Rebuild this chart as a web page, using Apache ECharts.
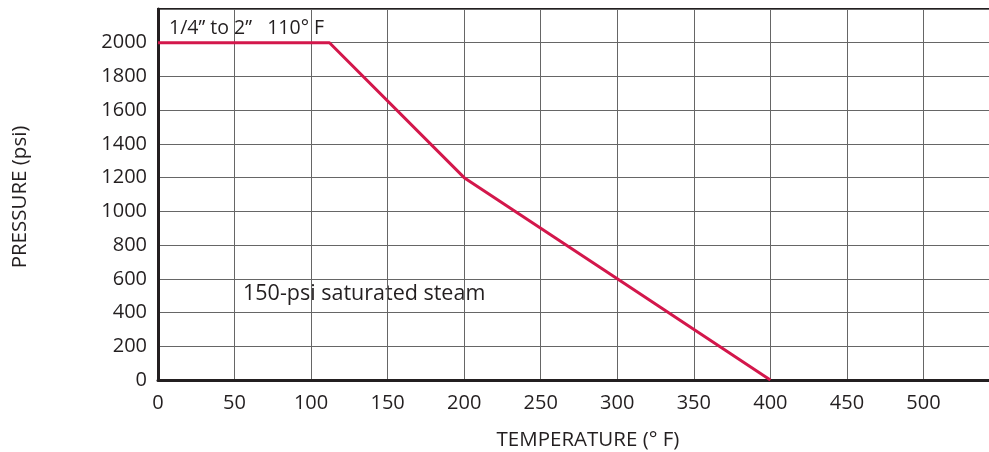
<!DOCTYPE html>
<html>
<head>
<meta charset="utf-8">
<script src="https://cdn.jsdelivr.net/npm/echarts@6/dist/echarts.min.js"></script>
<style>
html,body{margin:0;padding:0;background:#fff;}
#chart{width:989px;height:452px;}
</style>
</head>
<body>
<div id="chart"></div>
<script>
const temps = [0, 112, 200, 300, 400];
const pressures = [2000, 2000, 1200, 600, 0];
const xTicks = [0, 50, 100, 150, 200, 250, 300, 350, 400, 450, 500];
const yTicks = [0, 200, 400, 600, 800, 1000, 1200, 1400, 1600, 1800, 2000];
const xTitle = 'TEMPERATURE (° F)';
const yTitle = 'PRESSURE (psi)';
const note1 = '1/4” to 2”   110° F';
const note2 = '150-psi saturated steam';

const FONT = '"Open Sans", "Noto Sans", sans-serif';
const TXT = '#231f20';
const chart = echarts.init(document.getElementById('chart'));
chart.setOption({
  animation: false,
  grid: { left: 158, top: 9, right: -11, bottom: 72, containLabel: false, outerBoundsMode: 'none',
          show: true, borderColor: '#231f20', borderWidth: 2, backgroundColor: 'transparent' },
  xAxis: {
    type: 'value', min: 0, max: 550, interval: 50,
    axisLine: { show: true, onZero: false, lineStyle: { color: '#231f20', width: 3 } },
    axisTick: { show: false },
    axisLabel: { color: TXT, fontSize: 20, fontFamily: FONT, margin: 13,
      formatter: v => xTicks.includes(v) ? String(v) : '' },
    splitLine: { show: true, lineStyle: { color: '#666', width: 1 } }
  },
  yAxis: {
    type: 'value', min: 0, max: 2200, interval: 200,
    axisLine: { show: true, onZero: false, lineStyle: { color: '#231f20', width: 3 } },
    axisTick: { show: false },
    axisLabel: { color: TXT, fontSize: 20, fontFamily: FONT, margin: 11,
      formatter: v => yTicks.includes(v) ? String(v) : '' },
    splitLine: { show: true, lineStyle: { color: '#666', width: 1 } }
  },
  graphic: [
    { type: 'text', x: 20, y: 197, rotation: Math.PI / 2, style: { text: yTitle, fill: TXT, font: '20.5px ' + FONT, textAlign: 'center', textVerticalAlign: 'middle' } },
    { type: 'text', x: 588, y: 440, style: { text: xTitle, fill: TXT, font: '20.5px ' + FONT, textAlign: 'center', textVerticalAlign: 'middle' } },
    { type: 'text', x: 169, y: 28.5, style: { text: note1, fill: TXT, font: '19.5px ' + FONT, textAlign: 'left', textVerticalAlign: 'middle' } },
    { type: 'text', x: 243, y: 293.5, style: { text: note2, fill: TXT, font: '21.5px ' + FONT, textAlign: 'left', textVerticalAlign: 'middle' } }
  ],
  series: [{
    type: 'line',
    data: temps.map((t, i) => [t, pressures[i]]),
    symbol: 'none',
    lineStyle: { color: '#d3174b', width: 3 },
    z: 5
  }]
});
</script>
</body>
</html>
